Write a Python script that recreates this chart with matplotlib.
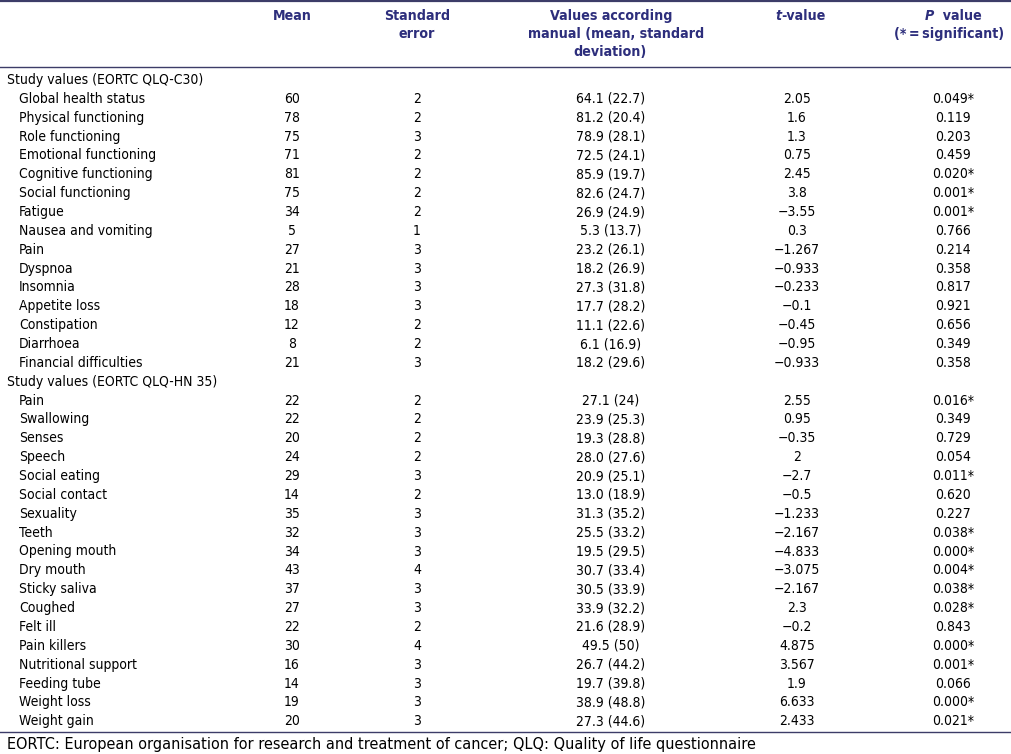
import matplotlib.pyplot as plt

plt.rcParams['font.family'] = ['DejaVu Sans']
plt.rcParams['font.stretch'] = 'condensed'

section_titles = ['Study values (EORTC QLQ-C30)', 'Study values (EORTC QLQ-HN 35)']

c30_labels = ['Global health status', 'Physical functioning', 'Role functioning',
              'Emotional functioning', 'Cognitive functioning', 'Social functioning',
              'Fatigue', 'Nausea and vomiting', 'Pain', 'Dyspnoa', 'Insomnia',
              'Appetite loss', 'Constipation', 'Diarrhoea', 'Financial difficulties']
c30_mean = [60, 78, 75, 71, 81, 75, 34, 5, 27, 21, 28, 18, 12, 8, 21]
c30_se = [2, 2, 3, 2, 2, 2, 2, 1, 3, 3, 3, 3, 2, 2, 3]
c30_manual = ['64.1 (22.7)', '81.2 (20.4)', '78.9 (28.1)', '72.5 (24.1)', '85.9 (19.7)',
              '82.6 (24.7)', '26.9 (24.9)', '5.3 (13.7)', '23.2 (26.1)', '18.2 (26.9)',
              '27.3 (31.8)', '17.7 (28.2)', '11.1 (22.6)', '6.1 (16.9)', '18.2 (29.6)']
c30_t = ['2.05', '1.6', '1.3', '0.75', '2.45', '3.8', '\u22123.55', '0.3', '\u22121.267',
         '\u22120.933', '\u22120.233', '\u22120.1', '\u22120.45', '\u22120.95', '\u22120.933']
c30_p = ['0.049*', '0.119', '0.203', '0.459', '0.020*', '0.001*', '0.001*', '0.766',
         '0.214', '0.358', '0.817', '0.921', '0.656', '0.349', '0.358']

hn_labels = ['Pain', 'Swallowing', 'Senses', 'Speech', 'Social eating', 'Social contact',
             'Sexuality', 'Teeth', 'Opening mouth', 'Dry mouth', 'Sticky saliva', 'Coughed',
             'Felt ill', 'Pain killers', 'Nutritional support', 'Feeding tube',
             'Weight loss', 'Weight gain']
hn_mean = [22, 22, 20, 24, 29, 14, 35, 32, 34, 43, 37, 27, 22, 30, 16, 14, 19, 20]
hn_se = [2, 2, 2, 2, 3, 2, 3, 3, 3, 4, 3, 3, 2, 4, 3, 3, 3, 3]
hn_manual = ['27.1 (24)', '23.9 (25.3)', '19.3 (28.8)', '28.0 (27.6)', '20.9 (25.1)',
             '13.0 (18.9)', '31.3 (35.2)', '25.5 (33.2)', '19.5 (29.5)', '30.7 (33.4)',
             '30.5 (33.9)', '33.9 (32.2)', '21.6 (28.9)', '49.5 (50)', '26.7 (44.2)',
             '19.7 (39.8)', '38.9 (48.8)', '27.3 (44.6)']
hn_t = ['2.55', '0.95', '\u22120.35', '2', '\u22122.7', '\u22120.5', '\u22121.233', '\u22122.167',
        '\u22124.833', '\u22123.075', '\u22122.167', '2.3', '\u22120.2', '4.875', '3.567', '1.9',
        '6.633', '2.433']
hn_p = ['0.016*', '0.349', '0.729', '0.054', '0.011*', '0.620', '0.227', '0.038*', '0.000*',
        '0.004*', '0.038*', '0.028*', '0.843', '0.000*', '0.001*', '0.066', '0.000*', '0.021*']

footnote = 'EORTC: European organisation for research and treatment of cancer; QLQ: Quality of life questionnaire'

head_col = '#2d2e7c'
line_col = '#3c3c68'
fs = 10
hfs = 10.2

fig = plt.figure(figsize=(10.11, 7.54), dpi=100)
ax = fig.add_axes([0, 0, 1, 1])
ax.set_xlim(0, 1011)
ax.set_ylim(754, 0)
ax.axis('off')

col_x = [292, 417, 611, 797, 953]

# header
hkw = dict(color=head_col, fontweight='bold', fontsize=hfs, va='baseline', ha='center')
ax.text(col_x[0], 20, 'Mean', **hkw)
ax.text(col_x[1], 20, 'Standard', **hkw)
ax.text(col_x[1], 38, 'error', **hkw)
ax.text(611, 20, 'Values according', **hkw)
ax.text(616, 38, 'manual (mean, standard', **hkw)
ax.text(610, 56, 'deviation)', **hkw)
tt = ax.text(775, 20, 't', color=head_col, fontweight='bold', fontstyle='italic',
             fontsize=hfs, va='baseline', ha='left')
ax.annotate('-value', xy=(1, 0), xycoords=tt, va='bottom', ha='left',
            color=head_col, fontweight='bold', fontsize=hfs)
pp = ax.text(925, 20, 'P', color=head_col, fontweight='bold', fontstyle='italic',
             fontsize=hfs, va='baseline', ha='left')
ax.annotate('  value', xy=(1, 0), xycoords=pp, va='bottom', ha='left',
            color=head_col, fontweight='bold', fontsize=hfs)
ax.text(1004, 38, '(*\u2009=\u2009significant)', color=head_col, fontweight='bold',
        fontsize=hfs, va='baseline', ha='right')

ax.plot([0, 1011], [0.8, 0.8], color=line_col, lw=1.6)
ax.plot([0, 1011], [66.5, 66.5], color=line_col, lw=1)
ax.plot([0, 1011], [732, 732], color=line_col, lw=1)

# body
y0 = 84
dy = 18.86
row = 0
sections = [(c30_labels, c30_mean, c30_se, c30_manual, c30_t, c30_p),
            (hn_labels, hn_mean, hn_se, hn_manual, hn_t, hn_p)]
for title, sec in zip(section_titles, sections):
    y = y0 + row * dy
    ax.text(7, y, title, fontsize=fs, va='baseline', ha='left')
    row += 1
    for lab, m, se, man, t, p in zip(*sec):
        y = y0 + row * dy
        ax.text(19, y, lab, fontsize=fs, va='baseline', ha='left')
        for x, v in zip(col_x, [m, se, man, t, p]):
            ax.text(x, y, str(v), fontsize=fs, va='baseline', ha='center')
        row += 1

ax.text(7, 749, footnote, fontsize=10.45, fontstretch='normal', va='baseline', ha='left')

fig.savefig('out.png', dpi=100)
